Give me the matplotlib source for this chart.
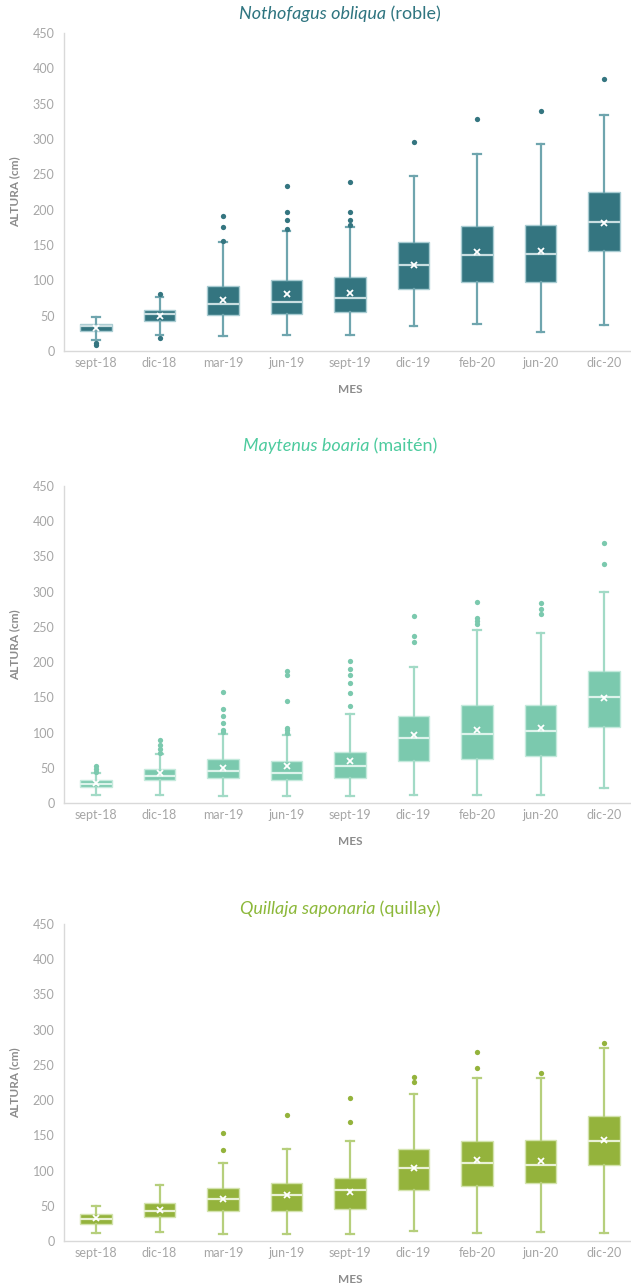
"""Height (ALTURA) by month for three native species — box plots, stacked."""

import matplotlib
matplotlib.use("Agg")

import matplotlib.pyplot as plt

plt.rcParams.update(
    {
        "font.family": ["Lato", "DejaVu Sans"],
        "axes.edgecolor": "#D9D9D9",
        "xtick.color": "#A6A6A6",
        "ytick.color": "#A6A6A6",
        "xtick.labelsize": 9,
        "ytick.labelsize": 9,
    }
)

# ---------------------------------------------------------------------------
# Data (cm)
# ---------------------------------------------------------------------------
meses = ["sept-18", "dic-18", "mar-19", "jun-19", "sept-19",
         "dic-19", "feb-20", "jun-20", "dic-20"]

# Nothofagus obliqua (roble)
roble_lo = [15, 22, 21, 23, 23, 36, 38, 27, 37]
roble_q1 = [29, 43, 51, 52, 55, 88, 98, 98, 142]
roble_med = [35, 52, 67, 70, 75, 121, 136, 137, 182]
roble_q3 = [38, 58, 92, 100, 105, 154, 177, 178, 225]
roble_hi = [48, 76, 154, 170, 176, 248, 279, 293, 334]
roble_mean = [33, 49, 72, 80, 82, 122, 140, 141, 181]
roble_out = [[12, 8], [80, 19], [156, 176, 191], [172, 185, 196, 234],
             [179, 185, 196, 239], [296], [329], [340], [385]]

# Maytenus boaria (maitén)
maiten_lo = [11, 12, 10, 10, 10, 12, 12, 12, 22]
maiten_q1 = [23, 32, 35, 32, 35, 60, 63, 67, 108]
maiten_med = [27, 38, 45, 43, 52, 92, 98, 102, 151]
maiten_q3 = [32, 48, 62, 60, 72, 124, 139, 139, 187]
maiten_hi = [42, 69, 98, 97, 126, 193, 245, 242, 299]
maiten_mean = [28, 42, 50, 52, 60, 97, 103, 107, 149]
maiten_out = [[44, 48, 52], [71, 76, 83, 89], [101, 103, 113, 124, 134, 158],
              [100, 103, 106, 145, 181, 188], [138, 156, 171, 181, 190, 201],
              [228, 237, 266], [254, 258, 262, 285], [268, 275, 284],
              [339, 369]]

# Quillaja saponaria (quillay)
quillay_lo = [12, 13, 10, 10, 10, 14, 11, 13, 11]
quillay_q1 = [24, 34, 42, 42, 46, 72, 78, 82, 108]
quillay_med = [31, 43, 60, 66, 72, 103, 111, 108, 142]
quillay_q3 = [38, 54, 75, 82, 90, 130, 142, 144, 177]
quillay_hi = [50, 79, 111, 130, 142, 208, 231, 231, 274]
quillay_mean = [32, 44, 60, 65, 70, 103, 115, 113, 143]
quillay_out = [[], [], [129, 154], [179], [169, 203], [226, 233],
               [246, 268], [238], [281]]

especies = [
    ("Nothofagus obliqua", " (roble)", "#2F7580",
     dict(box="#347580", whisk="#6FA5AE", edge="#A9CCD2", med="#C9DEE1"),
     roble_lo, roble_q1, roble_med, roble_q3, roble_hi, roble_mean, roble_out),
    ("Maytenus boaria", " (maitén)", "#4DCB9E",
     dict(box="#7BC9AE", whisk="#A2DAC6", edge="#C4EADC", med="#DDF3EB"),
     maiten_lo, maiten_q1, maiten_med, maiten_q3, maiten_hi, maiten_mean, maiten_out),
    ("Quillaja saponaria", " (quillay)", "#8CB83A",
     dict(box="#94B33C", whisk="#B6CF7C", edge="#D3E3AD", med="#E9F1D5"),
     quillay_lo, quillay_q1, quillay_med, quillay_q3, quillay_hi, quillay_mean, quillay_out),
]

# ---------------------------------------------------------------------------
# Figure
# ---------------------------------------------------------------------------
W, H = 631, 1286
fig = plt.figure(figsize=(W / 100, H / 100), dpi=100)

# (top px of 450 tick, bottom px of 0 tick, title y px)
paneles = [(33, 351, 14), (486, 803, 446), (924, 1241, 909)]
ax_left, ax_right = 64.3, 635.8

renderer = fig.canvas.get_renderer()

for (top, bot, ty), (nombre, comun, tcol, c, lo, q1, med, q3, hi, mean, out) in zip(paneles, especies):
    ax = fig.add_axes([ax_left / W, (H - bot) / H, (ax_right - ax_left) / W, (bot - top) / H])

    stats = []
    for i in range(len(meses)):
        stats.append(dict(whislo=lo[i], q1=q1[i], med=med[i], q3=q3[i],
                          whishi=hi[i], mean=mean[i], fliers=out[i], label=meses[i]))

    ax.bxp(
        stats,
        positions=range(len(meses)),
        widths=0.5,
        patch_artist=True,
        showmeans=True,
        showfliers=True,
        boxprops=dict(facecolor=c["box"], edgecolor=c["edge"], linewidth=1.0),
        whiskerprops=dict(color=c["whisk"], linewidth=1.6),
        capprops=dict(color=c["whisk"], linewidth=1.6),
        medianprops=dict(color=c["med"], linewidth=1.6),
        meanprops=dict(marker="x", markeredgecolor="white", markersize=5, markeredgewidth=1.3),
        flierprops=dict(marker="o", markerfacecolor=c["box"], markeredgecolor="none", markersize=3.8),
        capwidths=0.12,
    )

    ax.set_xlim(-0.5, 8.5)
    ax.set_ylim(0, 450)
    ax.set_yticks(range(0, 451, 50))
    ax.set_xticks(range(len(meses)))
    ax.set_xticklabels(meses)
    ax.tick_params(length=0)
    ax.tick_params(axis="x", pad=4)
    ax.tick_params(axis="y", pad=7)
    for s in ("top", "right"):
        ax.spines[s].set_visible(False)
    ax.spines["left"].set_linewidth(1.0)
    ax.spines["bottom"].set_linewidth(1.0)

    ax.set_ylabel("ALTURA (cm)", fontsize=8.5, fontweight="bold", color="#8C8C8C", labelpad=9)
    ax.set_xlabel("MES", fontsize=8.5, fontweight="bold", color="#8C8C8C", labelpad=11)

    # two-part title: italic species + plain common name, centred as a whole
    yf = 1 - ty / H
    t1 = fig.text(0, yf, nombre, fontsize=13, style="italic", color=tcol, va="center", ha="left")
    t2 = fig.text(0, yf, comun, fontsize=13, color=tcol, va="center", ha="left")
    w1 = t1.get_window_extent(renderer).width
    w2 = t2.get_window_extent(renderer).width
    x0 = 340 - (w1 + w2) / 2
    t1.set_x(x0 / W)
    t2.set_x((x0 + w1) / W)

fig.savefig("out.png", dpi=100)
plt.close(fig)
